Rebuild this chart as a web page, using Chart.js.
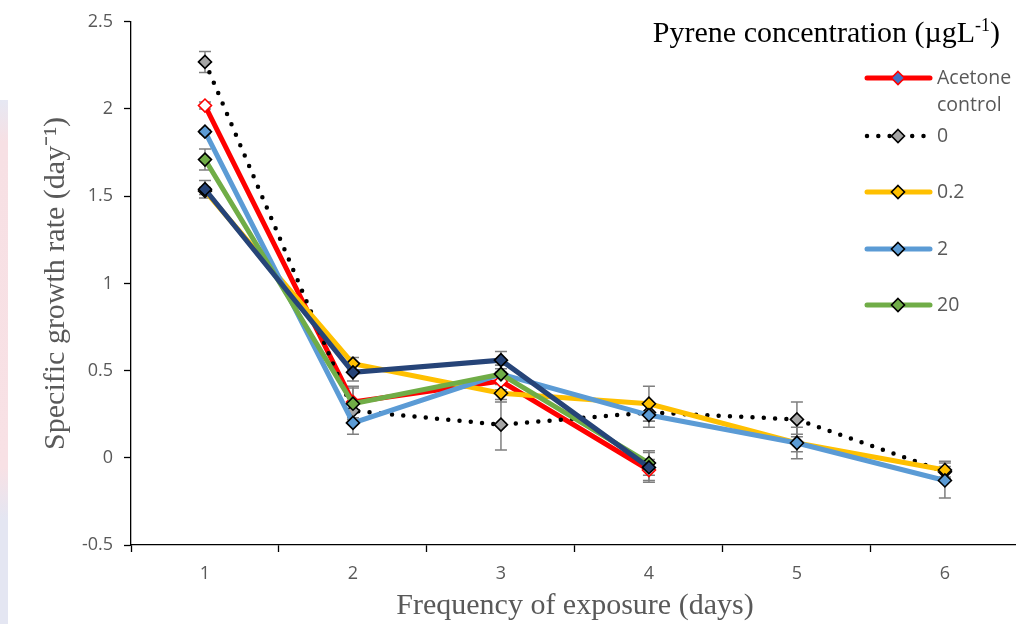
<!DOCTYPE html>
<html>
<head>
<meta charset="utf-8">
<script src="https://cdn.jsdelivr.net/npm/chart.js@4.4.1/dist/chart.umd.min.js"></script>
<style>
  html, body { margin: 0; padding: 0; background: #fff; }
  #wrap { position: relative; width: 1016px; height: 624px; overflow: hidden; }
  #edge { position: absolute; left: 0; top: 100px; width: 8px; height: 524px;
          background: linear-gradient(#e6e8f3 0%, #f7e0e4 8%, #f8e1e5 70%, #e4e6f2 80%, #e4e6f2 100%); }
</style>
</head>
<body>
<div id="wrap">
  <canvas id="growthChart" width="1027" height="624"></canvas>
  <div id="edge"></div>
</div>
<script>
"use strict";

// exposure days on the x axis
const days = ['1', '2', '3', '4', '5', '6'];

// mean specific growth rate (day^-1) per treatment
const acetoneControl = [2.02, 0.32, 0.44, -0.07, null, null];
const pyrene0 = [2.27, 0.27, 0.19, 0.26, 0.22, -0.08];
const pyrene02 = [1.53, 0.54, 0.37, 0.31, 0.085, -0.07];
const pyrene2 = [1.87, 0.20, 0.48, 0.245, 0.085, -0.13];
const pyrene20 = [1.71, 0.31, 0.48, -0.03, null, null];
const pyrene200 = [1.54, 0.49, 0.56, -0.055, null, null];

// standard deviations
const sdAcetone = [0.02, 0.09, 0.05, 0.06, null, null];
const sd0 = [0.06, 0.05, 0.145, 0.05, 0.10, 0.03];
const sd02 = [0.02, 0.035, 0.05, 0.10, 0.05, 0.05];
const sd2 = [0.01, 0.065, 0.05, 0.07, 0.09, 0.10];
const sd20 = [0.06, 0.09, 0.05, 0.07, null, null];
const sd200 = [0.05, 0.05, 0.05, 0.085, null, null];

// y axis
const yMin = -0.5;
const yMax = 2.5;
const yStep = 0.5;

const tickGray = '#595959';
const serif = "'Liberation Serif', 'Times New Roman', serif";

Chart.defaults.font.family = "'Open Sans', sans-serif";
Chart.defaults.font.size = 18;

function series(label, values, sd, line, fill, extra) {
    return Object.assign({
        label: label,
        data: values,
        errors: sd,
        borderColor: line,
        borderWidth: 5,
        backgroundColor: line,
        pointStyle: 'rectRot',
        pointRadius: 6.5,
        pointHoverRadius: 6.5,
        pointBorderWidth: 1.6,
        pointBorderColor: '#000',
        pointBackgroundColor: fill,
        legendFill: fill,
        inLegend: true,
        tension: 0,
        fill: false
    }, extra || {});
}

const datasets = [
    series('Acetone control', acetoneControl, sdAcetone, '#FF0000', '#FFFFFF',
        { pointBorderColor: '#FF0000', legendFill: '#4472C4' }),
    series('0', pyrene0, sd0, '#000000', '#A5A5A5',
        { borderWidth: 4.5, borderDash: [0, 11.3], borderCapStyle: 'round' }),
    series('0.2', pyrene02, sd02, '#FFC000', '#FFC000'),
    series('2', pyrene2, sd2, '#5B9BD5', '#5B9BD5'),
    series('20', pyrene20, sd20, '#70AD47', '#70AD47'),
    series('200', pyrene200, sd200, '#264478', '#264478', { inLegend: false })
];
// later series sit on top of earlier ones
datasets.forEach((ds, i) => { ds.order = datasets.length - i; });

// vertical error bars with caps, drawn under the lines
const errorBars = {
    id: 'errorBars',
    beforeDatasetsDraw(chart) {
        const ctx = chart.ctx;
        const y = chart.scales.y;
        ctx.save();
        ctx.strokeStyle = '#7F7F7F';
        ctx.lineWidth = 1.5;
        chart.data.datasets.forEach((ds, di) => {
            const meta = chart.getDatasetMeta(di);
            meta.data.forEach((pt, i) => {
                const v = ds.data[i];
                const e = ds.errors[i];
                if (v === null || e === null || e === undefined) return;
                const top = y.getPixelForValue(v + e);
                const bot = y.getPixelForValue(v - e);
                ctx.beginPath();
                ctx.moveTo(pt.x, top); ctx.lineTo(pt.x, bot);
                ctx.moveTo(pt.x - 6, top); ctx.lineTo(pt.x + 6, top);
                ctx.moveTo(pt.x - 6, bot); ctx.lineTo(pt.x + 6, bot);
                ctx.stroke();
            });
        });
        ctx.restore();
    }
};

function diamond(ctx, x, y, r, fill, stroke) {
    ctx.beginPath();
    ctx.moveTo(x, y - r); ctx.lineTo(x + r, y); ctx.lineTo(x, y + r); ctx.lineTo(x - r, y);
    ctx.closePath();
    ctx.fillStyle = fill; ctx.fill();
    ctx.lineWidth = 1.6; ctx.strokeStyle = stroke; ctx.stroke();
}

// legend box in the top right corner of the plot
const insideLegend = {
    id: 'insideLegend',
    afterDraw(chart) {
        const ctx = chart.ctx;
        ctx.save();
        // title with superscript
        ctx.fillStyle = '#000';
        ctx.textBaseline = 'alphabetic';
        const big = '30px ' + serif;
        const small = '18px ' + serif;
        const parts = [['Pyrene concentration (µgL', big, 0], ['-1', small, -11], [')', big, 0]];
        let w = 0;
        parts.forEach(p => { ctx.font = p[1]; w += ctx.measureText(p[0]).width; });
        let x = 1000 - w;
        parts.forEach(p => {
            ctx.font = p[1];
            ctx.fillText(p[0], x, 42 + p[2]);
            x += ctx.measureText(p[0]).width;
        });

        const rows = [78, 136, 192, 249, 305];
        let r = 0;
        ctx.font = "19.5px 'Open Sans', sans-serif";
        ctx.textBaseline = 'middle';
        chart.data.datasets.forEach(ds => {
            if (!ds.inLegend) return;
            const yy = rows[r++];
            ctx.save();
            ctx.strokeStyle = ds.borderColor;
            ctx.lineWidth = ds.borderWidth;
            ctx.lineCap = ds.borderCapStyle || 'round';
            if (ds.borderDash) ctx.setLineDash(ds.borderDash);
            ctx.beginPath();
            ctx.moveTo(867, yy); ctx.lineTo(930, yy);
            ctx.stroke();
            ctx.restore();
            diamond(ctx, 898, yy, 6.5, ds.legendFill, ds.pointBorderColor);
            ctx.fillStyle = tickGray;
            const words = ds.label === 'Acetone control' ? ['Acetone', 'control'] : [ds.label];
            words.forEach((t, k) => ctx.fillText(t, 937, yy + k * 27));
        });
        ctx.restore();
    }
};

const ctx = document.getElementById('growthChart').getContext('2d');
new Chart(ctx, {
    type: 'line',
    data: { labels: days, datasets: datasets },
    plugins: [errorBars, insideLegend],
    options: {
        responsive: false,
        animation: false,
        layout: { padding: { top: 20, left: 0, right: 0, bottom: 0 } },
        plugins: {
            legend: { display: false },
            tooltip: { enabled: false }
        },
        scales: {
            x: {
                type: 'category',
                offset: true,
                afterFit(scale) { scale.height = 79; },
                grid: {
                    offset: true,
                    drawOnChartArea: false,
                    drawTicks: true,
                    tickLength: 7,
                    tickColor: '#000',
                    tickWidth: 1.3
                },
                border: { display: true, color: '#000', width: 1.3 },
                ticks: {
                    color: tickGray,
                    font: { size: 18 },
                    padding: 11,
                    maxRotation: 0
                },
                title: {
                    display: true,
                    text: 'Frequency of exposure (days)',
                    color: tickGray,
                    font: { family: serif, size: 30 },
                    padding: { top: 0, bottom: 0 }
                }
            },
            y: {
                min: yMin,
                max: yMax,
                afterFit(scale) { scale.width = 131; },
                grid: {
                    drawOnChartArea: false,
                    drawTicks: true,
                    tickLength: 7,
                    tickColor: '#000',
                    tickWidth: 1.3
                },
                border: { display: true, color: '#000', width: 1.3 },
                ticks: {
                    stepSize: yStep,
                    color: tickGray,
                    font: { size: 18 },
                    padding: 11,
                    callback: value => String(Number(value.toFixed(1)))
                },
                title: {
                    display: true,
                    text: 'Specific growth rate (day⁻¹)',
                    color: tickGray,
                    font: { family: serif, size: 30 },
                    padding: { top: 38, bottom: 0 }
                }
            }
        }
    }
});
</script>
</body>
</html>
